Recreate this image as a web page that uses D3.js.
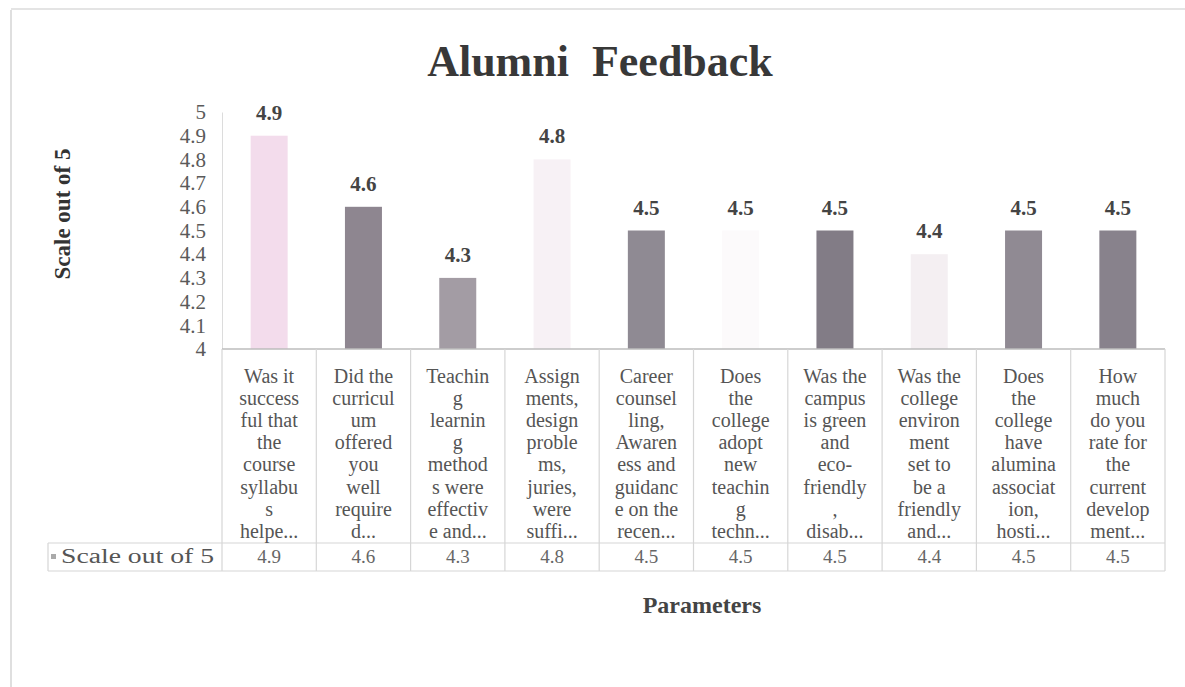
<!DOCTYPE html>
<html>
<head>
<meta charset="utf-8">
<script src="https://cdn.jsdelivr.net/npm/d3@7"></script>
<style>
  body { margin: 0; background: #fff; }
  text { font-family: "Liberation Serif", "DejaVu Serif", serif; }
</style>
</head>
<body>
<svg id="chart" width="1185" height="687"></svg>
<script>
// data
var categories = [
  ["Was it", "success", "ful that", "the", "course", "syllabu", "s", "helpe..."],
  ["Did the", "curricul", "um", "offered", "you", "well", "require", "d..."],
  ["Teachin", "g", "learnin", "g", "method", "s were", "effectiv", "e and..."],
  ["Assign", "ments,", "design", "proble", "ms,", "juries,", "were", "suffi..."],
  ["Career", "counsel", "ling,", "Awaren", "ess and", "guidanc", "e on the", "recen..."],
  ["Does", "the", "college", "adopt", "new", "teachin", "g", "techn..."],
  ["Was the", "campus", "is green", "and", "eco-", "friendly", ",", "disab..."],
  ["Was the", "college", "environ", "ment", "set to", "be a", "friendly", "and..."],
  ["Does", "the", "college", "have", "alumina", "associat", "ion,", "hosti..."],
  ["How", "much", "do you", "rate for", "the", "current", "develop", "ment..."]
];
var scores = [4.9, 4.6, 4.3, 4.8, 4.5, 4.5, 4.5, 4.4, 4.5, 4.5];
var yTicks = [4, 4.1, 4.2, 4.3, 4.4, 4.5, 4.6, 4.7, 4.8, 4.9, 5];
// scanned fills of each bar
var barColors = ["#f3dcec", "#8e8690", "#a39ca4", "#f7f1f5", "#8f8a93", "#fcfafb", "#827c86", "#f4eff2", "#908a93", "#88828c"];

var svg = d3.select("#chart");

var plotLeft = 222, plotRight = 1165, plotTop = 112, base = 349;
var headBottom = 543, rowBottom = 571, legendLeft = 48;

var x = d3.scaleBand()
  .domain(d3.range(scores.length))
  .range([plotLeft, plotRight])
  .paddingInner(0)
  .paddingOuter(0);

var y = d3.scaleLinear()
  .domain([4, 5])
  .range([base, plotTop]);

// faint outer frame of the scan
svg.append("line").attr("x1", 11).attr("x2", 11).attr("y1", 10).attr("y2", 687)
  .attr("stroke", "#d4d4d4").attr("stroke-width", 1.5);
svg.append("line").attr("x1", 11).attr("x2", 1185).attr("y1", 9).attr("y2", 9)
  .attr("stroke", "#e4e4e4").attr("stroke-width", 2);

// title
svg.append("text")
  .attr("x", 600).attr("y", 76)
  .attr("text-anchor", "middle")
  .attr("font-size", 44).attr("font-weight", "bold")
  .attr("fill", "#383838")
  .attr("word-spacing", 12)
  .text("Alumni Feedback");

// y axis
var yAxis = d3.axisLeft(y).tickValues(yTicks).tickSize(0).tickPadding(16)
  .tickFormat(d3.format("~g"));
var gy = svg.append("g").attr("transform", "translate(" + plotLeft + ",0)").call(yAxis);
gy.select(".domain").attr("stroke", "#dcdcdc");
gy.selectAll("text").attr("font-size", 21).attr("fill", "#5a5a5a")
  .style("font-family", "Liberation Serif");

svg.append("text")
  .attr("transform", "translate(70," + 214 + ") rotate(-90)")
  .attr("text-anchor", "middle")
  .attr("font-size", 23).attr("font-weight", "bold")
  .attr("fill", "#333")
  .text("Scale out of 5");

// bars
var bw = 37;
svg.selectAll("rect.bar")
  .data(scores)
  .enter().append("rect")
  .attr("class", "bar")
  .attr("x", function(d, i) { return x(i) + x.bandwidth() / 2 - bw / 2; })
  .attr("y", function(d) { return y(d); })
  .attr("width", bw)
  .attr("height", function(d) { return base - y(d); })
  .attr("fill", function(d, i) { return barColors[i]; });

// data labels
svg.selectAll("text.val")
  .data(scores)
  .enter().append("text")
  .attr("class", "val")
  .attr("x", function(d, i) { return x(i) + x.bandwidth() / 2; })
  .attr("y", function(d) { return y(d) - 16; })
  .attr("text-anchor", "middle")
  .attr("font-size", 21).attr("font-weight", "bold")
  .attr("fill", "#444")
  .text(function(d) { return d3.format(".1f")(d); });

// baseline
svg.append("line").attr("x1", plotLeft).attr("x2", plotRight).attr("y1", base).attr("y2", base)
  .attr("stroke", "#bdbdbd").attr("stroke-width", 1.5);

// data table grid
var grid = svg.append("g").attr("stroke", "#d6d6d6").attr("stroke-width", 1.2);
x.domain().concat([scores.length]).forEach(function(i) {
  var xx = i < scores.length ? x(i) : plotRight;
  grid.append("line").attr("x1", xx).attr("x2", xx).attr("y1", base).attr("y2", rowBottom);
});
grid.append("line").attr("x1", legendLeft).attr("x2", plotRight).attr("y1", headBottom).attr("y2", headBottom);
grid.append("line").attr("x1", legendLeft).attr("x2", plotRight).attr("y1", rowBottom).attr("y2", rowBottom);
grid.append("line").attr("x1", legendLeft).attr("x2", legendLeft).attr("y1", headBottom).attr("y2", rowBottom);

// category labels (wrapped)
var cat = svg.selectAll("g.cat")
  .data(categories)
  .enter().append("g")
  .attr("class", "cat")
  .attr("transform", function(d, i) { return "translate(" + (x(i) + x.bandwidth() / 2) + ",0)"; });
cat.selectAll("text")
  .data(function(d) { return d; })
  .enter().append("text")
  .attr("x", 0)
  .attr("y", function(d, j) { return 383 + j * 22.1; })
  .attr("text-anchor", "middle")
  .attr("font-size", 20)
  .attr("fill", "#555")
  .text(function(d) { return d; });

// values row
svg.selectAll("text.cell")
  .data(scores)
  .enter().append("text")
  .attr("class", "cell")
  .attr("x", function(d, i) { return x(i) + x.bandwidth() / 2; })
  .attr("y", 563)
  .attr("text-anchor", "middle")
  .attr("font-size", 19)
  .attr("fill", "#666")
  .text(function(d) { return d3.format(".1f")(d); });

// legend key + series name
svg.append("rect").attr("x", 51).attr("y", 554).attr("width", 5).attr("height", 5).attr("fill", "#aaa");
svg.append("text")
  .attr("x", 61).attr("y", 563)
  .attr("font-size", 20).attr("fill", "#555")
  .attr("textLength", 153)
  .attr("lengthAdjust", "spacingAndGlyphs")
  .text("Scale out of 5");

// x axis title
svg.append("text")
  .attr("x", 702).attr("y", 613)
  .attr("text-anchor", "middle")
  .attr("font-size", 24).attr("font-weight", "bold")
  .attr("fill", "#444")
  .text("Parameters");
</script>
</body>
</html>
